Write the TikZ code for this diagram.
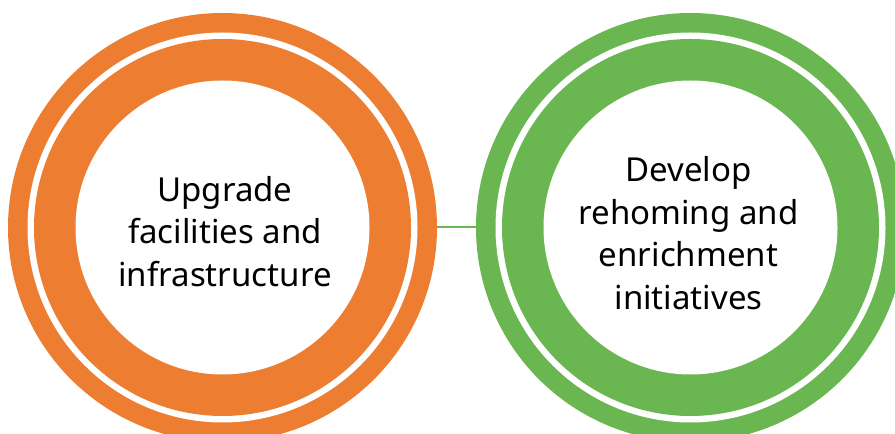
\documentclass[tikz,border=0pt]{standalone}
\usepackage{fontspec}
\setmainfont{Noto Sans}
\definecolor{orng}{HTML}{ED7D31}
\definecolor{grn}{HTML}{6AB651}
\begin{document}
\begin{tikzpicture}[x=1pt,y=1pt,
  disc/.style={circle, inner sep=0pt, outer sep=0pt, minimum size=#1},
  label/.style={align=center, font=\fontsize{33}{42.5}\selectfont, text=black, inner sep=0pt}]
\useasboundingbox (0,0) rectangle (895,434);
\clip (0,0) rectangle (895,434);
% orange circle
\node[disc=429pt, fill=orng] (o) at (222.5,206.5) {};
\node[disc=390pt, fill=white] (ow) at (o.center) {};
\node[disc=377pt, fill=orng] (oi) at (o.center) {};
\node[disc=294pt, fill=white] (oc) at (o.center) {};
% green circle
\node[disc=429pt, fill=grn] (g) at (690.5,206.5) {};
\node[disc=390pt, fill=white] (gw) at (g.center) {};
\node[disc=377pt, fill=grn] (gi) at (g.center) {};
\node[disc=294pt, fill=white] (gc) at (g.center) {};
% connector
\draw[grn, line width=2pt] (o.east) -- (g.west);
% texts
\node[label] (ot) at (225,202.5) {Upgrade\\facilities and\\infrastructure};
\node[label] (gt) at (688.5,201) {Develop\\rehoming and\\enrichment\\initiatives};
\end{tikzpicture}
\end{document}
